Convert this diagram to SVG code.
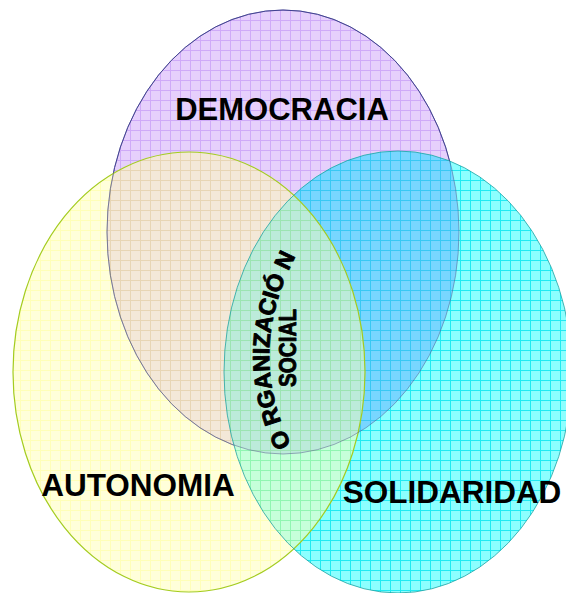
<svg xmlns="http://www.w3.org/2000/svg" width="566" height="593" viewBox="0 0 566 593">
<style>
.lbl{font-family:"Liberation Sans",Arial,sans-serif;font-weight:bold;fill:#000}
.heavy{stroke:#000;stroke-width:0.9;stroke-linejoin:round}
</style>
<defs>
<pattern id="pPurple" width="10" height="10" patternUnits="userSpaceOnUse">
<rect width="10" height="10" fill="#e6d0fc"/>
<path d="M0 0.5H10M0.5 0V10" stroke="#cfaaf8" stroke-width="1"/>
</pattern>
<pattern id="pCyan" width="10" height="10" patternUnits="userSpaceOnUse">
<rect width="10" height="10" fill="#8cffff"/>
<path d="M0 0.5H10M0.5 0V10" stroke="#20eaf2" stroke-width="1"/>
</pattern>
<pattern id="pBlue" width="10" height="10" patternUnits="userSpaceOnUse">
<rect width="10" height="10" fill="#78d6ff"/>
<path d="M0 0.5H10M0.5 0V10" stroke="#38c8f4" stroke-width="1"/>
</pattern>
<pattern id="pYellow" width="10" height="10" patternUnits="userSpaceOnUse">
<rect width="10" height="10" fill="#ffffb4"/>
<path d="M0 0.5H10M0.5 0V10" stroke="#ffff70" stroke-width="1"/>
</pattern>
<clipPath id="clipPurple">
<ellipse cx="283" cy="232" rx="176" ry="222"/>
</clipPath>
<path id="arc" d="M292 446 Q243 350 300 248"/>
</defs>
<rect width="566" height="593" fill="#fff"/>
<g id="democracia">
<ellipse cx="283" cy="232" rx="176" ry="222" fill="url(#pPurple)" stroke="#3c3c9c" stroke-width="1"/>
<text class="lbl" x="282" y="120" font-size="31" text-anchor="middle">DEMOCRACIA</text>
</g>
<g id="solidaridad">
<ellipse cx="398" cy="372" rx="174" ry="221" fill="url(#pCyan)"/>
<ellipse cx="398" cy="372" rx="174" ry="221" fill="url(#pBlue)" clip-path="url(#clipPurple)"/>
</g>
<g id="autonomia" opacity="0.5">
<ellipse cx="189" cy="372" rx="176" ry="220" fill="url(#pYellow)"/>
</g>
<g id="outlines" fill="none">
<ellipse cx="189" cy="372" rx="176" ry="220" stroke="#a4cc20" stroke-width="1.2"/>
<ellipse cx="398" cy="372" rx="174" ry="221" stroke="#1a9c9c" stroke-width="1" opacity="0.75"/>
<ellipse cx="283" cy="232" rx="176" ry="222" stroke="#4a4a80" stroke-width="1" opacity="0.45"/>
</g>
<g id="labels">
<text class="lbl" x="138" y="496" font-size="31.5" text-anchor="middle">AUTONOMIA</text>
<text class="lbl" x="452" y="503" font-size="31.5" text-anchor="middle">SOLIDARIDAD</text>
</g>
<g id="organizacion-social">
<text class="lbl heavy" font-size="23.5"><textPath href="#arc" startOffset="1">O RGANIZACIÓ N</textPath></text>
<text class="lbl heavy" font-size="24" transform="translate(296 348) rotate(-90)" text-anchor="middle" textLength="78" lengthAdjust="spacingAndGlyphs">SOCIAL</text>
</g>
</svg>
